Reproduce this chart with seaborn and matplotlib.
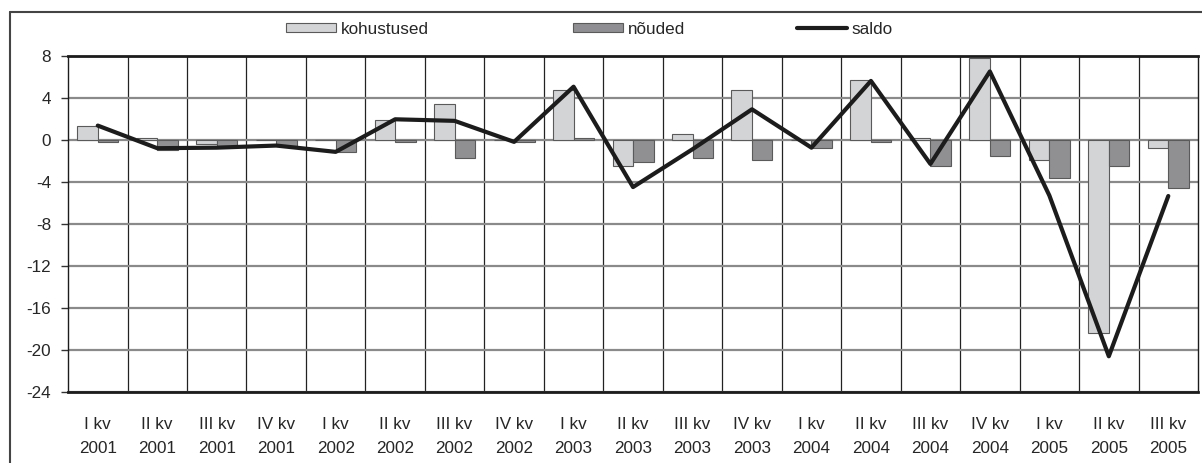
import matplotlib
matplotlib.use("Agg")
import matplotlib.pyplot as plt
import numpy as np
import pandas as pd
import seaborn as sns
from matplotlib.lines import Line2D
from matplotlib.ticker import FixedLocator

quarters = ["I kv", "II kv", "III kv", "IV kv"] * 4 + ["I kv", "II kv", "III kv"]
years = ["2001"] * 4 + ["2002"] * 4 + ["2003"] * 4 + ["2004"] * 4 + ["2005"] * 3
labels = [f"{q}\n{y}" for q, y in zip(quarters, years)]

kohustused = [1.3, 0.2, -0.4, 0.0, 0.0, 1.9, 3.4, 0.0, 4.75, -2.5,
              0.55, 4.75, 0.0, 5.7, 0.2, 7.8, -1.9, -18.4, -0.75]
nouded = [-0.25, -1.0, -0.65, -0.6, -1.2, -0.2, -1.75, -0.2, 0.2, -2.1,
          -1.75, -1.95, -0.75, -0.2, -2.5, -1.55, -3.6, -2.5, -4.6]
saldo = [1.35, -0.8, -0.75, -0.55, -1.15, 1.95, 1.8, -0.2, 5.05, -4.5,
         -0.9, 2.9, -0.75, 5.6, -2.3, 6.5, -5.3, -20.6, -5.35]

light = "#d3d4d6"
dark = "#8f8f93"
edge = "#5a5a5a"
ink = "#1c1c1c"
fs = 12.3

df = pd.DataFrame({
    "period": labels * 2,
    "value": kohustused + nouded,
    "series": ["kohustused"] * len(labels) + ["nõuded"] * len(labels),
})

sns.set_style("white")
plt.rcParams["font.family"] = ["Liberation Sans", "DejaVu Sans"]
plt.rcParams["axes.unicode_minus"] = False

fig = plt.figure(figsize=(12.02, 4.63), dpi=100)
ax = fig.add_axes([0.0566, 0.1533, 0.9401, 0.7264])

sns.barplot(data=df, x="period", y="value", hue="series", order=labels,
            palette=[light, dark], width=0.69, edgecolor=edge,
            linewidth=0.8, ax=ax, legend=False, zorder=3)
sns.lineplot(x=np.arange(len(labels)), y=saldo, color=ink, lw=3.0,
             ax=ax, zorder=4)

ax.set_xlim(-0.5, len(labels) - 0.5)
ax.set_ylim(-24, 8)
ax.set_yticks(np.arange(-24, 9, 4))
ax.set_xlabel("")
ax.set_ylabel("")

ax.yaxis.grid(True, color="#8a8a8a", lw=1.6, zorder=1)
ax.xaxis.set_minor_locator(FixedLocator(np.arange(0.5, len(labels) - 1, 1)))
ax.xaxis.grid(True, which="minor", color="#222222", lw=0.9, zorder=1)
ax.xaxis.grid(False, which="major")
ax.set_axisbelow(True)

ax.tick_params(axis="x", which="both", length=0, labelsize=fs, pad=18)
ax.tick_params(axis="y", length=5, width=1, direction="out", left=True,
               labelsize=fs, pad=7, color="#333333")
for t in ax.get_xticklabels():
    t.set_linespacing(1.75)

for side in ["top", "bottom"]:
    ax.spines[side].set_linewidth(2.0)
    ax.spines[side].set_color(ink)
for side in ["left", "right"]:
    ax.spines[side].set_linewidth(1.0)
    ax.spines[side].set_color(ink)

# legend: three entries placed like the original
entries = [
    (plt.Rectangle((0, 0), 1, 1, facecolor=light, edgecolor=edge, lw=0.8), "kohustused", 286),
    (plt.Rectangle((0, 0), 1, 1, facecolor=dark, edgecolor=edge, lw=0.8), "nõuded", 573),
    (Line2D([0], [0], color=ink, lw=3.0), "saldo", 797),
]
for handle, text, xpix in entries:
    fig.legend([handle], [text], loc="center left",
               bbox_to_anchor=(xpix / 1202, 1 - 29 / 463), frameon=False,
               fontsize=fs, handlelength=2.9, handleheight=0.5,
               handletextpad=0.3, borderpad=0, borderaxespad=0)

# outer chart frame
fig.add_artist(Line2D([10 / 1202, 1.0], [1 - 12 / 463] * 2,
                      transform=fig.transFigure, color="#444444", lw=1.5))
fig.add_artist(Line2D([10 / 1202] * 2, [0.0, 1 - 12 / 463],
                      transform=fig.transFigure, color="#444444", lw=1.5))

fig.savefig("out.png", dpi=100)
plt.close(fig)
